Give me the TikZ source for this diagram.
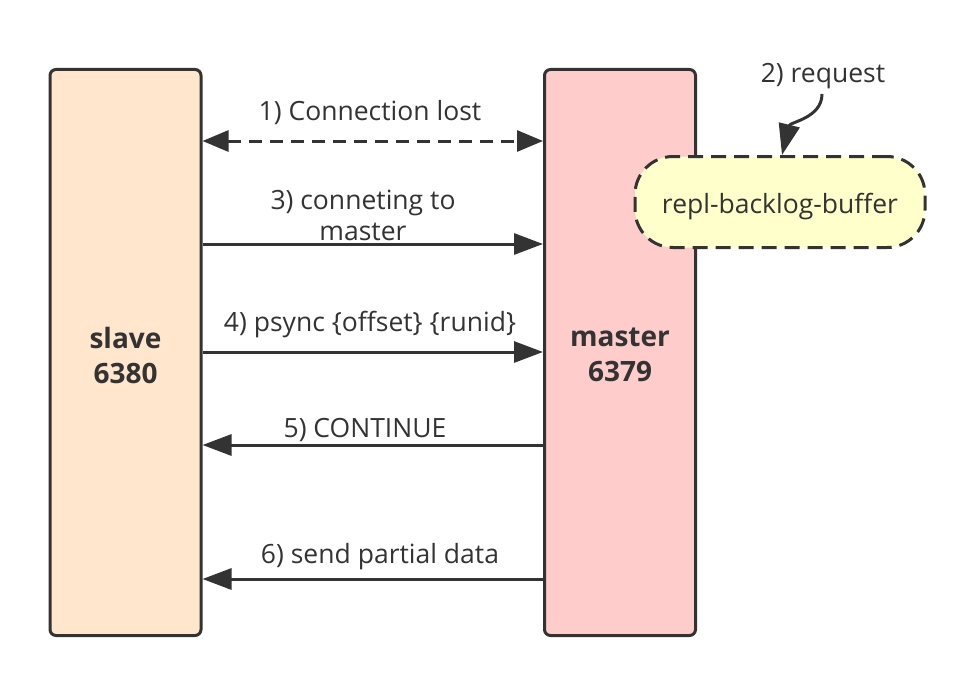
\documentclass[tikz,border=0pt]{standalone}
\usepackage{fontspec}
\setmainfont{Open Sans}
\usetikzlibrary{arrows.meta}
\definecolor{ink}{HTML}{333333}
\definecolor{slavefill}{HTML}{FFE6CC}
\definecolor{masterfill}{HTML}{FFCCCC}
\definecolor{buffill}{HTML}{FFFFCC}
\tikzset{
  hostbox/.style={draw=ink, line width=3pt, rounded corners=6pt, minimum width=151pt, minimum height=566pt, inner sep=0pt},
  hosttext/.style={text=ink, align=center, inner sep=0pt, font=\fontsize{28}{35}\selectfont\bfseries},
  bufbox/.style={draw=ink, line width=3pt, dash pattern=on 15pt off 8pt, rounded corners=38pt, fill=buffill, minimum width=290pt, minimum height=91pt},
  msg/.style={draw=ink, line width=3pt, -{Triangle[length=29pt,width=21pt]}},
  lbl/.style={text=ink, align=center, font=\fontsize{26.5}{31}\selectfont, inner sep=0pt},
}
\begin{document}
\begin{tikzpicture}[x=1pt,y=-1pt]
\useasboundingbox (0,0) rectangle (974,685);
\node[hostbox, fill=slavefill] (slave) at (125.5,352.5) {};
\node[hosttext] (slavetext) at (125.5,355) {slave\\6380};
\node[hostbox, fill=masterfill] (master) at (620,352.5) {};
\node[hosttext] (mastertext) at (620,355) {master\\6379};
\node[bufbox] (buf) at (780,202) {};
\node[lbl] (buftext) at (780,207) {repl-backlog-buffer};
\node[lbl] (reqlbl) at (823,76) {2) request};
\coordinate (reqstart) at (822,94);
\draw[ink, line width=3pt, -{Triangle[length=31pt,width=21pt]}] (reqstart) .. controls (822,118) and (790,122) .. (buf.north -| 782,0);
% messages
\draw[ink, line width=3pt, dash pattern=on 13pt off 8pt, {Triangle[length=26pt,width=21pt]}-{Triangle[length=26pt,width=21pt]}] (slave.east |- 0,141) -- (master.west |- 0,141);
\node[lbl] (l1) at (370,113) {1) Connection lost};
\draw[msg] (slave.east |- 0,244) -- (master.west |- 0,244);
\node[lbl] (l3) at (363,215) {3) conneting to\\master};
\draw[msg] (slave.east |- 0,352) -- (master.west |- 0,352);
\node[lbl] (l4) at (370,325) {4) psync \{offset\} \{runid\}};
\draw[msg] (master.west |- 0,445) -- (slave.east |- 0,445);
\node[lbl] (l5) at (365,430) {5) CONTINUE};
\draw[msg] (master.west |- 0,579) -- (slave.east |- 0,579);
\node[lbl] (l6) at (380,557) {6) send partial data};
\end{tikzpicture}
\end{document}
